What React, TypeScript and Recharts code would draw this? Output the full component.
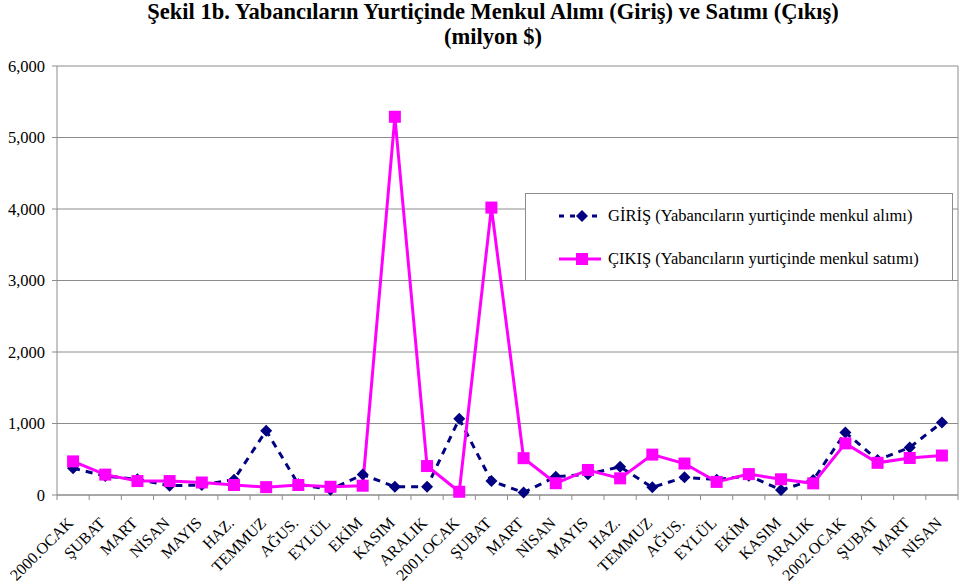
import { CartesianGrid, Line, LineChart, XAxis, YAxis } from 'recharts'

const months = [
  '2000.OCAK', 'ŞUBAT', 'MART', 'NİSAN', 'MAYIS', 'HAZ.', 'TEMMUZ', 'AĞUS.', 'EYLÜL', 'EKİM', 'KASIM', 'ARALIK',
  '2001.OCAK', 'ŞUBAT', 'MART', 'NİSAN', 'MAYIS', 'HAZ.', 'TEMMUZ', 'AĞUS.', 'EYLÜL', 'EKİM', 'KASIM', 'ARALIK',
  '2002.OCAK', 'ŞUBAT', 'MART', 'NİSAN',
]

// GİRİŞ (yabancıların yurtiçinde menkul alımı), milyon $
const giris = [
  375, 265, 220, 130, 140, 215, 900, 150, 75, 285, 115, 115,
  1065, 195, 35, 255, 290, 395, 107, 247, 215, 270, 70, 210,
  875, 490, 665, 1015,
]

// ÇIKIŞ (yabancıların yurtiçinde menkul satımı), milyon $
const cikis = [
  470, 285, 195, 195, 175, 140, 110, 140, 115, 130, 5290, 405,
  45, 4020, 515, 165, 350, 233, 565, 440, 183, 292, 220, 163,
  722, 450, 518, 552,
]

const yTicks = [0, 1000, 2000, 3000, 4000, 5000, 6000]

const data = months.map((m, i) => ({ key: `${i}`, label: m, giris: giris[i], cikis: cikis[i] }))

const GRAY = '#8c8c8c'
const NAVY = '#000080'
const PINK = '#ff00ff'
const FONT = "'Liberation Serif', 'DejaVu Serif', serif"
const STEP = (958 - 57) / months.length

function Diamond(props: any) {
  const { cx, cy } = props
  if (cx == null || cy == null) return null
  const r = 6
  return <polygon points={`${cx},${cy - r} ${cx + r},${cy} ${cx},${cy + r} ${cx - r},${cy}`} fill={NAVY} />
}

function Square(props: any) {
  const { cx, cy } = props
  if (cx == null || cy == null) return null
  return <rect x={cx - 6} y={cy - 6} width={12} height={12} fill={PINK} />
}

function MonthTick(props: any) {
  const { x, y, payload, index } = props
  const label = months[Number(payload.value)]
  const lx = x + 1
  const ly = y + 29
  return (
    <g>
      <line x1={x - STEP / 2} x2={x - STEP / 2} y1={y} y2={y + 5} stroke={GRAY} />
      {index === months.length - 1 && <line x1={x + STEP / 2} x2={x + STEP / 2} y1={y} y2={y + 5} stroke={GRAY} />}
      <text x={lx} y={ly} transform={`rotate(-45 ${lx} ${ly})`} textAnchor="end" fontSize={16} style={{ fontFamily: FONT }} fill="#000">
        {label}
      </text>
    </g>
  )
}

function LegendBox() {
  const rows = [
    { name: 'GİRİŞ (Yabancıların yurtiçinde menkul alımı)', color: NAVY, dash: '5 6', marker: 'diamond' },
    { name: 'ÇIKIŞ (Yabancıların yurtiçinde menkul satımı)', color: PINK, dash: undefined, marker: 'square' },
  ]
  return (
    <div style={{ position: 'absolute', left: 525, top: 193, width: 428, height: 88, border: `1px solid ${GRAY}`, background: '#fff', boxSizing: 'border-box', fontFamily: FONT, fontSize: 16.5 }}>
      {rows.map((r, i) => (
        <div key={r.name} style={{ position: 'absolute', left: 0, top: i === 0 ? 12 : 55, height: 20, display: 'flex', alignItems: 'center' }}>
          <svg width={80} height={20} style={{ display: 'block' }}>
            <line x1={33} x2={75} y1={10} y2={10} stroke={r.color} strokeWidth={3} strokeDasharray={r.dash} />
            {r.marker === 'diamond' ? (
              <polygon points="56,4 62,10 56,16 50,10" fill={r.color} />
            ) : (
              <rect x={50} y={4} width={12} height={12} fill={r.color} />
            )}
          </svg>
          <span style={{ marginLeft: 2, whiteSpace: 'nowrap', color: '#000' }}>{r.name}</span>
        </div>
      ))}
    </div>
  )
}

const titleStyle = { position: 'absolute', left: 0, width: 986, textAlign: 'center', fontWeight: 'bold', fontSize: 22.5, lineHeight: '24px', color: '#000', whiteSpace: 'nowrap' } as const

export default function App() {
  return (
    <div style={{ position: 'absolute', left: 0, top: 0, width: 960, height: 584, background: '#fff', fontFamily: FONT }}>
      <div style={{ ...titleStyle, top: 0 }}>Şekil 1b. Yabancıların Yurtiçinde Menkul Alımı (Giriş) ve Satımı (Çıkış)</div>
      <div style={{ ...titleStyle, top: 25 }}>(milyon $)</div>
      <LineChart width={960} height={584} data={data} margin={{ top: 66, right: 1, bottom: 0, left: 0 }}>
        <CartesianGrid vertical={false} stroke={GRAY} />
        <XAxis
          dataKey="key"
          type="category"
          interval={0}
          height={89}
          padding={{ left: STEP / 2, right: STEP / 2 }}
          axisLine={{ stroke: GRAY }}
          tickLine={false}
          tickSize={0}
          tickMargin={0}
          tick={<MonthTick />}
        />
        <YAxis
          width={57}
          domain={[0, 6000]}
          ticks={yTicks}
          interval={0}
          axisLine={{ stroke: GRAY }}
          tickLine={{ stroke: GRAY }}
          tickSize={5}
          tickMargin={7}
          tick={{ fill: '#000', fontSize: 16.5, style: { fontFamily: FONT } }}
          tickFormatter={(v: number) => v.toLocaleString('en-US')}
        />
        <YAxis yAxisId="right" orientation="right" width={1} domain={[0, 6000]} tick={false} tickLine={false} axisLine={{ stroke: GRAY }} />
        <Line dataKey="giris" name="GİRİŞ" stroke={NAVY} strokeWidth={3} strokeDasharray="7 6" dot={<Diamond />} activeDot={false} isAnimationActive={false} />
        <Line dataKey="cikis" name="ÇIKIŞ" stroke={PINK} strokeWidth={3} dot={<Square />} activeDot={false} isAnimationActive={false} />
      </LineChart>
      <LegendBox />
    </div>
  )
}
